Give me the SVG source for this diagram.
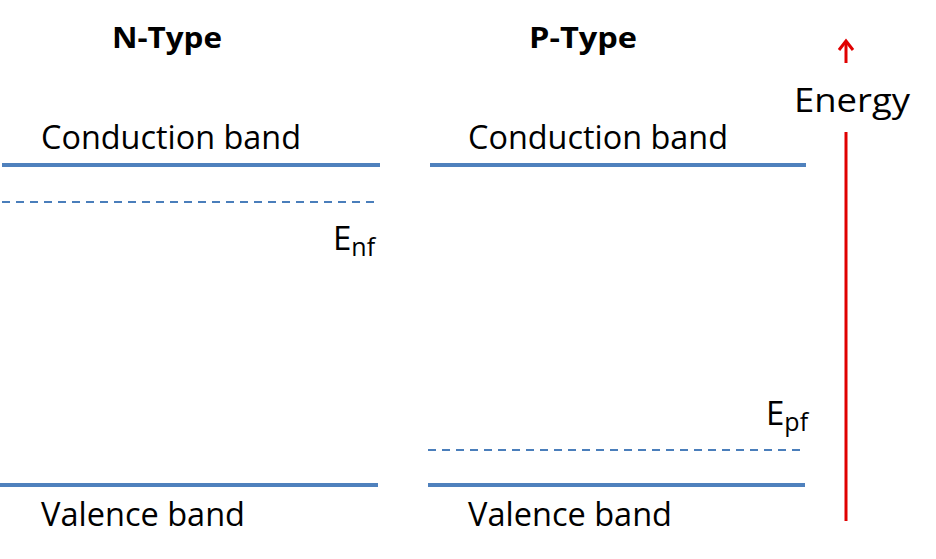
<svg xmlns="http://www.w3.org/2000/svg" width="936" height="559" viewBox="0 0 936 559">
<style>
text{font-family:"Open Sans","Liberation Sans",sans-serif;fill:#000}
.lbl{font-size:33px}
.ttl{font-size:29px;font-weight:bold}
.band{stroke:#4F81BD;stroke-width:4;fill:none}
.fermi{stroke:#4A7EBB;stroke-width:1.8;stroke-dasharray:8,6;fill:none}
.en{stroke:#E00000;stroke-width:3;fill:none}
</style>
<rect width="936" height="559" fill="#fff"/>
<g id="n-type">
<text class="ttl" x="167" y="48" text-anchor="middle" textLength="110" lengthAdjust="spacingAndGlyphs">N-Type</text>
<text class="lbl" x="41" y="149" textLength="260" lengthAdjust="spacingAndGlyphs">Conduction band</text>
<line class="band" x1="2" y1="165" x2="380" y2="165"/>
<line class="fermi" x1="2" y1="202" x2="374" y2="202"/>
<text class="lbl" x="333" y="250" font-size="35">E<tspan font-size="25" dy="6">nf</tspan></text>
<line class="band" x1="0" y1="485" x2="378" y2="485"/>
<text class="lbl" x="41" y="526" textLength="204" lengthAdjust="spacingAndGlyphs">Valence band</text>
</g>
<g id="p-type">
<text class="ttl" x="583" y="48" text-anchor="middle" textLength="108" lengthAdjust="spacingAndGlyphs">P-Type</text>
<text class="lbl" x="468" y="149" textLength="260" lengthAdjust="spacingAndGlyphs">Conduction band</text>
<line class="band" x1="430" y1="165" x2="806" y2="165"/>
<text class="lbl" x="766" y="425" font-size="35">E<tspan font-size="25" dy="6">pf</tspan></text>
<line class="fermi" x1="428" y1="450" x2="802" y2="450"/>
<line class="band" x1="428" y1="485" x2="805" y2="485"/>
<text class="lbl" x="468" y="526" textLength="204" lengthAdjust="spacingAndGlyphs">Valence band</text>
</g>
<g id="energy">
<line class="en" x1="846" y1="41" x2="846" y2="63"/>
<polyline class="en" points="839,50 846,41 853,50"/>
<text class="lbl" x="852" y="112" text-anchor="middle" font-size="37" textLength="116" lengthAdjust="spacingAndGlyphs">Energy</text>
<line class="en" x1="846" y1="132" x2="846" y2="521"/>
</g>
</svg>
